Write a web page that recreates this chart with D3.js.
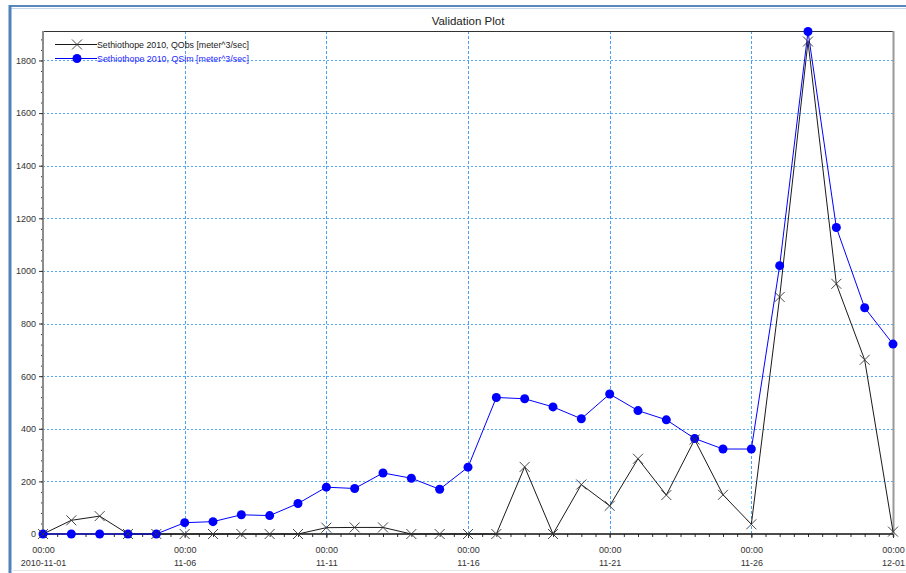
<!DOCTYPE html>
<html>
<head>
<meta charset="utf-8">
<script src="https://cdn.jsdelivr.net/npm/d3@7/dist/d3.min.js"></script>
<style>
  html, body { margin: 0; padding: 0; background: #fff; }
  svg { display: block; font-family: "Liberation Sans", Arial, sans-serif; }
</style>
</head>
<body>
<svg id="chart" width="906" height="573"></svg>
<script>
// Daily values, 2010-11-01 through 2010-12-01
const dates = [
  "2010-11-01","2010-11-02","2010-11-03","2010-11-04","2010-11-05","2010-11-06",
  "2010-11-07","2010-11-08","2010-11-09","2010-11-10","2010-11-11","2010-11-12",
  "2010-11-13","2010-11-14","2010-11-15","2010-11-16","2010-11-17","2010-11-18",
  "2010-11-19","2010-11-20","2010-11-21","2010-11-22","2010-11-23","2010-11-24",
  "2010-11-25","2010-11-26","2010-11-27","2010-11-28","2010-11-29","2010-11-30",
  "2010-12-01"
];
const qObs = [0, 52, 68, 0, 0, 0, 0, 0, 0, 0, 24, 25, 25, 0, 0, 0, 0,
              255, 0, 188, 107, 286, 148, 359, 149, 37, 901, 1872, 951, 662, 9];
const qSim = [0, 0, 0, 0, 0, 43, 47, 73, 70, 116, 178, 173, 232, 212, 170, 254,
              519, 514, 483, 438, 532, 469, 434, 363, 323, 323, 1020, 1910, 1165, 860, 722];
const seriesNames = [
  "Sethiothope 2010, QObs [meter^3/sec]",
  "Sethiothope 2010, QSim [meter^3/sec]"
];
const yTicks = [0, 200, 400, 600, 800, 1000, 1200, 1400, 1600, 1800];
const xTicks = ["2010-11-01","2010-11-06","2010-11-11","2010-11-16","2010-11-21","2010-11-26","2010-12-01"];
const titleText = "Validation Plot";

const parse = d3.utcParse("%Y-%m-%d");
const obs = dates.map((d, i) => ({ t: parse(d), v: qObs[i] }));
const sim = dates.map((d, i) => ({ t: parse(d), v: qSim[i] }));

const svg = d3.select("#chart");
const W = 906, H = 573;
const plot = { left: 43, right: 893, top: 31, bottom: 534 };

// outer window frame
svg.append("rect").attr("x", 0).attr("y", 0).attr("width", W).attr("height", H).attr("fill", "#fff");
svg.append("line").attr("x1", 10).attr("x2", W).attr("y1", 6).attr("y2", 6)
  .attr("stroke", "#5b87c0").attr("stroke-width", 2);
svg.append("line").attr("x1", 10).attr("x2", W).attr("y1", 8.5).attr("y2", 8.5)
  .attr("stroke", "#c5d5ea").attr("stroke-width", 1);
svg.append("line").attr("x1", 10).attr("x2", 10).attr("y1", 5).attr("y2", H)
  .attr("stroke", "#4f81bd").attr("stroke-width", 3);
svg.append("line").attr("x1", 11).attr("x2", W).attr("y1", 570.5).attr("y2", 570.5)
  .attr("stroke", "#e4e4e4").attr("stroke-width", 1);

const x = d3.scaleUtc()
  .domain([parse(dates[0]), parse(dates[dates.length - 1])])
  .range([plot.left, plot.right]);
const y = d3.scaleLinear().domain([0, 1912]).range([plot.bottom, plot.top]);

// title
svg.append("text").attr("x", (plot.left + plot.right) / 2).attr("y", 25)
  .attr("text-anchor", "middle").attr("font-size", 11.5).attr("fill", "#222")
  .text(titleText);

// grid
const grid = svg.append("g");
grid.selectAll("line.h").data(yTicks.filter(v => v > 0)).join("line")
  .attr("x1", plot.left).attr("x2", plot.right)
  .attr("y1", d => Math.round(y(d)) + 0.5).attr("y2", d => Math.round(y(d)) + 0.5)
  .attr("stroke", "#5aa8f5").attr("stroke-dasharray", "2,2");
grid.selectAll("line.v").data(xTicks.slice(1, -1)).join("line")
  .attr("x1", d => Math.round(x(parse(d))) + 0.5).attr("x2", d => Math.round(x(parse(d))) + 0.5)
  .attr("y1", plot.top).attr("y2", plot.bottom)
  .attr("stroke", "#4aa0f5").attr("stroke-dasharray", "3,2");

// frame top / right
svg.append("line").attr("x1", plot.left).attr("x2", plot.right + 1)
  .attr("y1", plot.top + 0.5).attr("y2", plot.top + 0.5).attr("stroke", "#333");
svg.append("line").attr("x1", plot.right + 0.5).attr("x2", plot.right + 0.5)
  .attr("y1", plot.top).attr("y2", plot.bottom + 3).attr("stroke", "#999").attr("stroke-width", 2);

// y axis
const yMinor = d3.range(0, 1912, 40);
const gyMinor = svg.append("g").attr("transform", `translate(${plot.left},0)`)
  .call(d3.axisLeft(y).tickValues(yMinor).tickSize(2).tickFormat(""));
gyMinor.select(".domain").remove();
gyMinor.selectAll("line").attr("stroke", "#333");
const gy = svg.append("g").attr("transform", `translate(${plot.left},0)`)
  .call(d3.axisLeft(y).tickValues(yTicks).tickSize(4).tickPadding(3).tickFormat(d3.format("d")));
gy.select(".domain").attr("stroke", "#8c8c8c").attr("stroke-width", 2)
  .attr("d", `M0,${plot.top}V${plot.bottom}`);
gy.selectAll("text").attr("font-size", 9).attr("fill", "#333")
  .attr("font-family", "Liberation Sans, Arial, sans-serif");
gy.selectAll("line").attr("stroke", "#333");

// x axis
const xMinor = d3.utcHour.every(12).range(x.domain()[0], d3.utcHour.offset(x.domain()[1], 1));
const gxMinor = svg.append("g").attr("transform", `translate(0,${plot.bottom})`)
  .call(d3.axisBottom(x).tickValues(xMinor).tickSize(3).tickFormat(""));
gxMinor.select(".domain").remove();
gxMinor.selectAll("line").attr("stroke", "#333");
const gx = svg.append("g").attr("transform", `translate(0,${plot.bottom})`)
  .call(d3.axisBottom(x).tickValues(xTicks.map(parse)).tickSize(4).tickFormat(""));
gx.select(".domain").attr("stroke", "#111").attr("stroke-width", 1.5)
  .attr("d", `M${plot.left},0H${plot.right}`);
gx.selectAll("line").attr("stroke", "#333");
gx.selectAll(".tick").append("text")
  .attr("text-anchor", "middle").attr("font-size", 9).attr("fill", "#333")
  .attr("font-family", "Liberation Sans, Arial, sans-serif")
  .each(function (d, i) {
    const t = d3.select(this);
    t.append("tspan").attr("x", 0).attr("y", 19).text("00:00");
    t.append("tspan").attr("x", 0).attr("y", 32)
      .text(i === 0 ? d3.utcFormat("%Y-%m-%d")(d) : d3.utcFormat("%m-%d")(d));
  });

// series
const line = d3.line().x(d => x(d.t)).y(d => y(d.v));
svg.append("path").datum(obs).attr("d", line)
  .attr("fill", "none").attr("stroke", "#1a1a1a").attr("stroke-width", 1);
svg.append("path").datum(sim).attr("d", line)
  .attr("fill", "none").attr("stroke", "#0000ff").attr("stroke-width", 1);

const xMark = (g, cx, cy, s) => g.append("path")
  .attr("d", `M${cx - s},${cy - s}L${cx + s},${cy + s}M${cx - s},${cy + s}L${cx + s},${cy - s}`)
  .attr("stroke", "#333").attr("stroke-width", 0.9).attr("fill", "none");

const markers = svg.append("g");
markers.selectAll("circle").data(sim).join("circle")
  .attr("cx", d => x(d.t)).attr("cy", d => y(d.v)).attr("r", 4.5).attr("fill", "#0000ff");
const obsMarks = svg.append("g");
obs.forEach(d => xMark(obsMarks, x(d.t), y(d.v), 5));

// legend
const lg = svg.append("g");
const legendRows = [
  { name: seriesNames[0], color: "#1a1a1a", text: "#222", y: 44.5, kind: "x" },
  { name: seriesNames[1], color: "#0000ff", text: "#2a2aff", y: 58.5, kind: "o" }
];
legendRows.forEach(r => {
  lg.append("line").attr("x1", 55).attr("x2", 97).attr("y1", r.y).attr("y2", r.y)
    .attr("stroke", r.color).attr("stroke-width", 1);
  if (r.kind === "x") xMark(lg, 77, r.y, 5);
  else lg.append("circle").attr("cx", 77).attr("cy", r.y).attr("r", 4.5).attr("fill", r.color);
  lg.append("text").attr("x", 97).attr("y", r.y + 3.3).attr("font-size", 9)
    .attr("fill", r.text).attr("textLength", 152).attr("lengthAdjust", "spacingAndGlyphs")
    .text(r.name);
});
</script>
</body>
</html>
